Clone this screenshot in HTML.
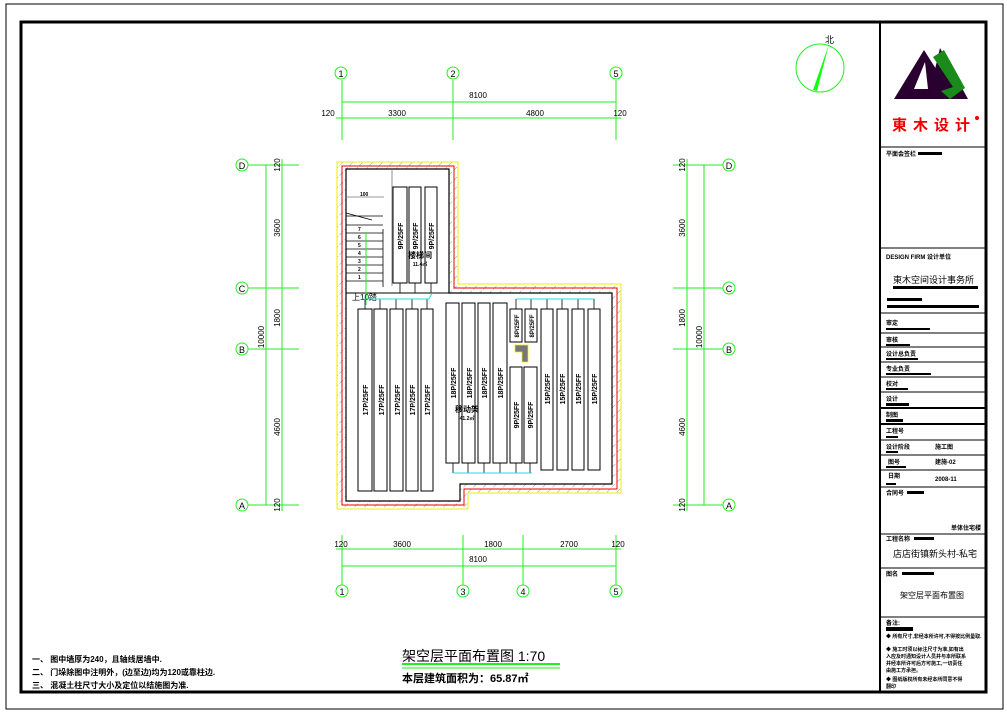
<!DOCTYPE html>
<html><head><meta charset="utf-8"><style>
html,body{margin:0;padding:0;background:#fff}
svg{display:block}
text{font-family:"Liberation Sans","Noto Sans CJK SC",sans-serif}
</style></head><body>
<svg width="1007" height="712" viewBox="0 0 1007 712" xmlns="http://www.w3.org/2000/svg">
<defs>
<pattern id="h" width="7" height="7" patternUnits="userSpaceOnUse" patternTransform="rotate(45)">
<line x1="0" y1="0" x2="0" y2="7" stroke="#999" stroke-width="1" stroke-dasharray="3,2"/>
</pattern>
</defs>
<rect x="6" y="4" width="997" height="705" fill="none" stroke="#000" stroke-width="1"/>
<rect x="21" y="22" width="965" height="670" fill="none" stroke="#000" stroke-width="3"/>
<line x1="880" y1="22" x2="880" y2="692" stroke="#000" stroke-width="2"/>

<circle cx="820" cy="68" r="24" fill="none" stroke="#2e2" stroke-width="1"/>
<polygon points="829,44 817,91 813,90" fill="#1f1"/>
<text x="825" y="43" font-size="9" fill="#000">北</text>

<polygon points="924,50 894,99 955,99" fill="#2a0030"/>
<polygon points="940,48 968,99 928,99" fill="#2a0030"/>
<polygon points="925,62 914,89 928,89" fill="#fff"/>
<polygon points="933,57 944,50 965,88 950,99 941,91 953,87" fill="#1a8a1a"/>
<text x="892" y="130" font-size="15" font-weight="bold" fill="#e00" letter-spacing="6">東木设计</text>
<circle cx="977" cy="118" r="2" fill="#e00"/>

<g stroke="#000" stroke-width="1">
<line x1="880" y1="147" x2="986" y2="147"/>
<line x1="880" y1="248" x2="986" y2="248"/>
<line x1="880" y1="313" x2="986" y2="313"/>
<line x1="880" y1="333" x2="986" y2="333"/>
<line x1="880" y1="347" x2="986" y2="347"/>
<line x1="880" y1="362" x2="986" y2="362"/>
<line x1="880" y1="377" x2="986" y2="377"/>
<line x1="880" y1="392" x2="986" y2="392"/>
<line x1="880" y1="408" x2="986" y2="408" stroke-width="2"/>
<line x1="880" y1="424" x2="986" y2="424" stroke-width="2"/>
<line x1="880" y1="440" x2="986" y2="440"/>
<line x1="880" y1="455" x2="986" y2="455"/>
<line x1="880" y1="470" x2="986" y2="470"/>
<line x1="880" y1="487" x2="986" y2="487"/>
<line x1="880" y1="534" x2="986" y2="534"/>
<line x1="880" y1="568" x2="986" y2="568"/>
<line x1="880" y1="617" x2="986" y2="617"/>
</g>
<g font-size="6" font-weight="bold" fill="#000">
<text x="886" y="156">平面会签栏</text><rect x="918" y="152" width="24" height="3"/>
<text x="886" y="259">DESIGN FIRM 设计单位</text>
<text x="893" y="283" font-size="9" font-weight="normal">東木空间设计事务所</text>
<rect x="893" y="286" width="85" height="3"/>
<rect x="887" y="298" width="35" height="3"/><rect x="887" y="305" width="92" height="3"/>
<text x="886" y="325">审定</text><rect x="886" y="328" width="44" height="2"/>
<text x="886" y="342">审核</text><rect x="886" y="344" width="24" height="2"/>
<text x="886" y="356">设计总负责</text><rect x="886" y="358" width="32" height="2"/>
<text x="886" y="371">专业负责</text><rect x="886" y="373" width="45" height="2"/>
<text x="886" y="386">校对</text><rect x="886" y="388" width="22" height="2"/>
<text x="886" y="401">设计</text><rect x="886" y="403" width="23" height="3"/>
<text x="886" y="417">制图</text><rect x="886" y="419" width="17" height="3"/>
<text x="886" y="433">工程号</text><rect x="886" y="436" width="12" height="2"/>
<text x="886" y="449">设计阶段</text><text x="935" y="449">施工图</text><rect x="886" y="451" width="12" height="2"/>
<text x="888" y="464">图号</text><text x="935" y="464">建施-02</text><rect x="886" y="466" width="20" height="2"/>
<text x="888" y="478">日期</text><text x="935" y="481">2008-11</text><rect x="886" y="483" width="10" height="2"/>
<text x="886" y="495">合同号</text><rect x="907" y="491" width="17" height="3"/>
<text x="951" y="530">单体住宅楼</text>
<text x="886" y="541">工程名称</text><rect x="914" y="537" width="20" height="3"/>
<text x="893" y="557" font-size="9" font-weight="normal">店店街镇新头村-私宅</text>
<text x="886" y="576">图名</text><rect x="902" y="572" width="32" height="3"/>
<text x="900" y="598" font-size="8" font-weight="normal">架空层平面布置图</text>
<text x="886" y="625">备注:</text><rect x="886" y="627" width="27" height="4"/>
<text x="886" y="638" font-size="5">◆ 所有尺寸,非经本所许可,不得按比例量取.</text>
<text x="886" y="651" font-size="5">◆ 施工时须以标注尺寸为准,如有出</text>
<text x="886" y="658" font-size="5">入应及时通知设计人员并与本所联系</text>
<text x="886" y="665" font-size="5">并经本所许可后方可施工,一切责任</text>
<text x="886" y="672" font-size="5">由施工方承担。</text>
<text x="886" y="681" font-size="5">◆ 图纸版权所有未经本所同意不得</text>
<text x="886" y="688" font-size="5">翻印</text>
</g>

<path d="M337,162 H458 V284 H621 V493 H468 V509 H337 Z M346,169 H449 V293 H612 V484 H460 V501 H346 Z" fill="url(#h)" fill-rule="evenodd"/>
<path d="M337,162 H458 V284 H621 V493 H468 V509 H337 Z" fill="none" stroke="#ee0" stroke-width="1"/>
<path d="M342,166 H454 V288 H617 V489 H464 V505 H342 Z" fill="none" stroke="#e00" stroke-width="1"/>
<path d="M346,169 H449 V293 H612 V484 H460 V501 H346 Z" fill="none" stroke="#000" stroke-width="1.2"/>
<line x1="346" y1="293" x2="449" y2="293" stroke="#000"/>

<g stroke="#000" stroke-width="0.8">
<line x1="346" y1="216" x2="383" y2="216"/>
<line x1="346" y1="225" x2="383" y2="225"/>
<line x1="346" y1="233" x2="383" y2="233"/>
<line x1="346" y1="241" x2="383" y2="241"/>
<line x1="346" y1="249" x2="383" y2="249"/>
<line x1="346" y1="257" x2="383" y2="257"/>
<line x1="346" y1="265" x2="383" y2="265"/>
<line x1="346" y1="273" x2="383" y2="273"/>
<line x1="346" y1="281" x2="383" y2="281"/>
<line x1="383" y1="229" x2="383" y2="287"/>
<line x1="346" y1="213" x2="372" y2="220"/>
<line x1="346" y1="197" x2="384" y2="197" stroke="#777"/>
<line x1="392" y1="169" x2="392" y2="286" stroke="#777"/>
</g>
<g font-size="5" font-weight="bold"><text x="358" y="231">7</text><text x="358" y="239">6</text><text x="358" y="247">5</text><text x="358" y="255">4</text><text x="358" y="263">3</text><text x="358" y="271">2</text><text x="358" y="279">1</text><text x="360" y="196">100</text></g>
<line x1="366" y1="232" x2="366" y2="305" stroke="#2e2" stroke-width="1"/>
<text x="352" y="300" font-size="8">上10踏</text>

<g fill="#fff" stroke="#000" stroke-width="1">
<rect x="393" y="187" width="14" height="96"/><rect x="409" y="187" width="12" height="96"/><rect x="425" y="187" width="12" height="96"/>
<rect x="358" y="309" width="14" height="182"/><rect x="374" y="309" width="13" height="182"/><rect x="390" y="309" width="13" height="182"/><rect x="406" y="309" width="12" height="182"/><rect x="421" y="309" width="12" height="182"/>
<rect x="446" y="303" width="13" height="160"/><rect x="462" y="303" width="13" height="160"/><rect x="478" y="303" width="12" height="160"/><rect x="493" y="303" width="14" height="160"/>
<rect x="510" y="309" width="12" height="33"/><rect x="525" y="309" width="12" height="33"/>
<rect x="510" y="367" width="12" height="96"/><rect x="524" y="367" width="13" height="96"/>
<rect x="541" y="309" width="12" height="161"/><rect x="557" y="309" width="11" height="161"/><rect x="572" y="309" width="12" height="161"/><rect x="588" y="309" width="12" height="161"/>
</g>
<polygon points="515,345 528,345 528,362 522,362 522,352 515,352" fill="#777" stroke="#ee0" stroke-width="0.7"/>
<g stroke="#000" stroke-width="0.8">
<line x1="400" y1="283" x2="400" y2="293"/><line x1="415" y1="283" x2="415" y2="293"/><line x1="431" y1="283" x2="431" y2="293"/>
<line x1="365" y1="299" x2="365" y2="309"/><line x1="380" y1="299" x2="380" y2="309"/><line x1="396" y1="299" x2="396" y2="309"/><line x1="412" y1="299" x2="412" y2="309"/><line x1="427" y1="299" x2="427" y2="309"/>
<line x1="453" y1="463" x2="453" y2="473"/><line x1="468" y1="463" x2="468" y2="473"/><line x1="484" y1="463" x2="484" y2="473"/><line x1="500" y1="463" x2="500" y2="473"/><line x1="516" y1="463" x2="516" y2="473"/><line x1="530" y1="463" x2="530" y2="473"/>
<line x1="516" y1="299" x2="516" y2="309"/><line x1="531" y1="299" x2="531" y2="309"/><line x1="547" y1="299" x2="547" y2="309"/><line x1="562" y1="299" x2="562" y2="309"/><line x1="578" y1="299" x2="578" y2="309"/><line x1="594" y1="299" x2="594" y2="309"/>
</g>
<g stroke="#2dd" stroke-width="1" fill="none">
<polyline points="362,299 429,299 432,293"/>
<line x1="453" y1="473" x2="532" y2="473"/>
<line x1="516" y1="299" x2="595" y2="299"/>
</g>
<g font-size="7" font-weight="bold" fill="#000" text-anchor="middle">
<text transform="translate(403,236) rotate(-90)">9P/25FF</text>
<text transform="translate(418,236) rotate(-90)">9P/25FF</text>
<text transform="translate(434,236) rotate(-90)">9P/25FF</text>
<text transform="translate(368,400) rotate(-90)">17P/25FF</text>
<text transform="translate(384,400) rotate(-90)">17P/25FF</text>
<text transform="translate(400,400) rotate(-90)">17P/25FF</text>
<text transform="translate(415,400) rotate(-90)">17P/25FF</text>
<text transform="translate(430,400) rotate(-90)">17P/25FF</text>
<text transform="translate(456,383) rotate(-90)">18P/25FF</text>
<text transform="translate(472,383) rotate(-90)">18P/25FF</text>
<text transform="translate(487,383) rotate(-90)">18P/25FF</text>
<text transform="translate(503,383) rotate(-90)">18P/25FF</text>
<text transform="translate(519,326) rotate(-90)" font-size="6">8P/25FF</text>
<text transform="translate(534,326) rotate(-90)" font-size="6">8P/25FF</text>
<text transform="translate(519,415) rotate(-90)">9P/25FF</text>
<text transform="translate(533,415) rotate(-90)">9P/25FF</text>
<text transform="translate(550,389) rotate(-90)">15P/25FF</text>
<text transform="translate(565,389) rotate(-90)">15P/25FF</text>
<text transform="translate(581,389) rotate(-90)">15P/25FF</text>
<text transform="translate(597,389) rotate(-90)">15P/25FF</text>
<text x="420" y="258" font-size="8">楼梯间</text><text x="420" y="266" font-size="5">11.4㎡</text>
<text x="467" y="412" font-size="8">移动架</text><text x="467" y="420" font-size="5">41.2㎡</text>
</g>

<g stroke="#2e2" stroke-width="1" fill="none">
<line x1="342" y1="80" x2="342" y2="140"/><line x1="453" y1="80" x2="453" y2="140"/><line x1="616" y1="80" x2="616" y2="140"/>
<line x1="342" y1="102" x2="616" y2="102"/><line x1="336" y1="118" x2="621" y2="118"/>
<line x1="342" y1="535" x2="342" y2="585"/><line x1="463" y1="535" x2="463" y2="585"/><line x1="523" y1="535" x2="523" y2="585"/><line x1="616" y1="535" x2="616" y2="585"/>
<line x1="336" y1="549" x2="621" y2="549"/><line x1="342" y1="566" x2="616" y2="566"/>
<line x1="248" y1="165" x2="299" y2="165"/><line x1="248" y1="288" x2="299" y2="288"/><line x1="248" y1="349" x2="299" y2="349"/><line x1="248" y1="505" x2="299" y2="505"/>
<line x1="266" y1="165" x2="266" y2="505"/><line x1="282" y1="159" x2="282" y2="511"/>
<line x1="673" y1="165" x2="723" y2="165"/><line x1="673" y1="288" x2="723" y2="288"/><line x1="673" y1="349" x2="723" y2="349"/><line x1="673" y1="505" x2="723" y2="505"/>
<line x1="704" y1="165" x2="704" y2="505"/><line x1="687" y1="159" x2="687" y2="511"/>
<circle cx="341" cy="73" r="6"/><circle cx="453" cy="73" r="6"/><circle cx="616" cy="73" r="6"/>
<circle cx="342" cy="591" r="6"/><circle cx="463" cy="591" r="6"/><circle cx="523" cy="591" r="6"/><circle cx="616" cy="591" r="6"/>
<circle cx="242" cy="165" r="6"/><circle cx="242" cy="288" r="6"/><circle cx="242" cy="349" r="6"/><circle cx="242" cy="505" r="6"/>
<circle cx="729" cy="165" r="6"/><circle cx="729" cy="288" r="6"/><circle cx="729" cy="349" r="6"/><circle cx="729" cy="505" r="6"/>
</g>
<g font-size="9" fill="#000" text-anchor="middle">
<text x="341" y="77">1</text><text x="453" y="77">2</text><text x="616" y="77">5</text>
<text x="342" y="595">1</text><text x="463" y="595">3</text><text x="523" y="595">4</text><text x="616" y="595">5</text>
<text x="242" y="169">D</text><text x="242" y="292">C</text><text x="242" y="353">B</text><text x="242" y="509">A</text>
<text x="729" y="169">D</text><text x="729" y="292">C</text><text x="729" y="353">B</text><text x="729" y="509">A</text>
</g>
<g font-size="8" fill="#000" text-anchor="middle">
<text x="478" y="98">8100</text><text x="397" y="116">3300</text><text x="535" y="116">4800</text><text x="328" y="116">120</text><text x="620" y="116">120</text>
<text x="341" y="547">120</text><text x="402" y="547">3600</text><text x="493" y="547">1800</text><text x="569" y="547">2700</text><text x="618" y="547">120</text>
<text x="478" y="562">8100</text>
<text transform="translate(280,165) rotate(-90)">120</text><text transform="translate(280,228) rotate(-90)">3600</text><text transform="translate(280,318) rotate(-90)">1800</text><text transform="translate(280,427) rotate(-90)">4600</text><text transform="translate(280,505) rotate(-90)">120</text>
<text transform="translate(264,337) rotate(-90)">10000</text>
<text transform="translate(685,165) rotate(-90)">120</text><text transform="translate(685,228) rotate(-90)">3600</text><text transform="translate(685,318) rotate(-90)">1800</text><text transform="translate(685,427) rotate(-90)">4600</text><text transform="translate(685,505) rotate(-90)">120</text>
<text transform="translate(702,337) rotate(-90)">10000</text>
</g>

<text x="402" y="661" font-size="14" fill="#000">架空层平面布置图 1:70</text>
<line x1="402" y1="664" x2="560" y2="664" stroke="#2e2" stroke-width="2"/>
<line x1="402" y1="668" x2="560" y2="668" stroke="#2e2" stroke-width="1"/>
<text x="402" y="682" font-size="11" font-weight="bold" fill="#000">本层建筑面积为：65.87㎡</text>
<g font-size="8" font-weight="bold" fill="#000">
<text x="32" y="662">一、 图中墙厚为240，且轴线居墙中.</text>
<text x="32" y="675">二、 门垛除图中注明外，(边至边)均为120或靠柱边.</text>
<text x="32" y="688">三、 混凝土柱尺寸大小及定位以结施图为准.</text>
</g>
</svg>
</body></html>
